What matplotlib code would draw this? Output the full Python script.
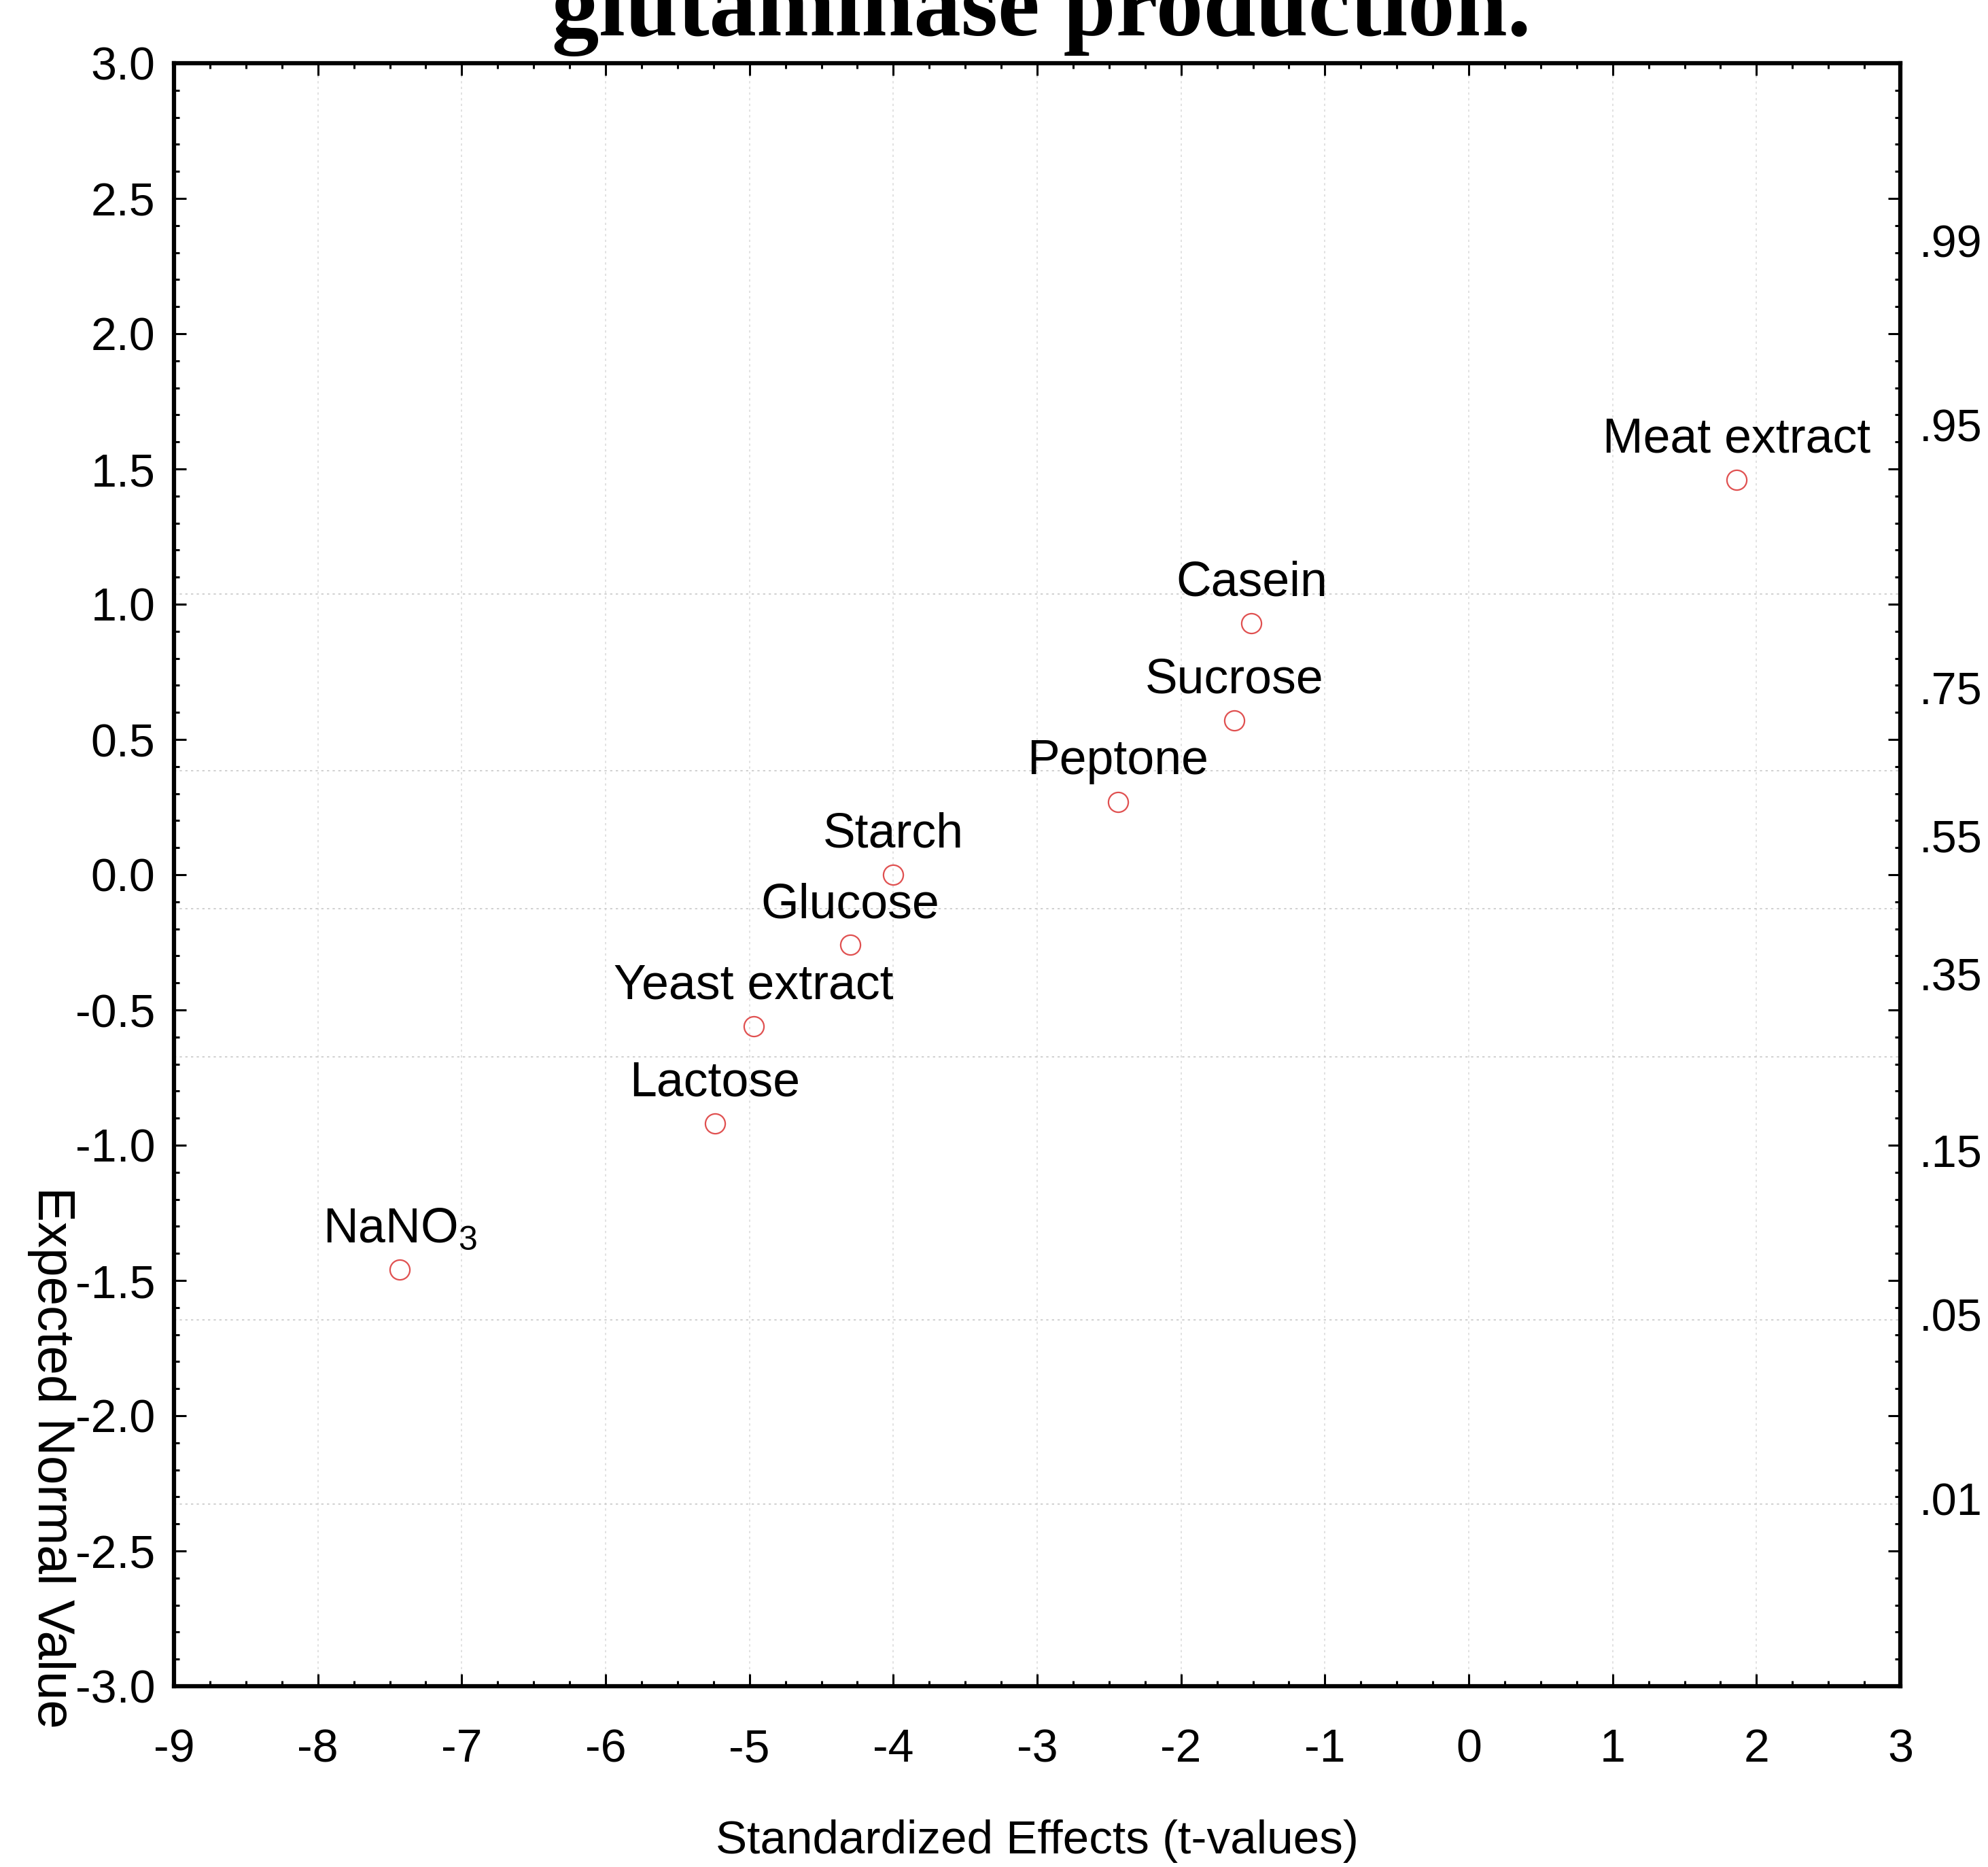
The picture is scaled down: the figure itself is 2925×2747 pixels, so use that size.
import matplotlib
matplotlib.use("Agg")
import matplotlib.pyplot as plt
from matplotlib import font_manager
from matplotlib.ticker import MultipleLocator
from matplotlib.transforms import blended_transform_factory
from statistics import NormalDist

# ---- data ----
factors = ["Meat extract", "Casein", "Sucrose", "Peptone", "Starch",
           "Glucose", "Yeast extract", "Lactose", "NaNO$_3$"]
t_values = [1.86, -1.51, -1.63, -2.44, -4.00, -4.30, -4.97, -5.24, -7.43]
expected_normal = [1.46, 0.93, 0.57, 0.27, 0.00, -0.26, -0.56, -0.92, -1.46]

prob_labels = [".99", ".95", ".75", ".55", ".35", ".15", ".05", ".01"]
prob_values = [0.99, 0.95, 0.75, 0.55, 0.35, 0.15, 0.05, 0.01]
grid_probs = [0.85, 0.65, 0.45, 0.25, 0.05, 0.01]

x_ticks = list(range(-9, 4))
y_ticks = [3.0, 2.5, 2.0, 1.5, 1.0, 0.5, 0.0, -0.5, -1.0, -1.5, -2.0, -2.5, -3.0]

title = "glutaminase production."
xlabel = "Standardized Effects (t-values)"
ylabel = "Expected Normal Value"

# ---- fonts ----
names = {f.name for f in font_manager.fontManager.ttflist}
narrow = "Liberation Sans Narrow" in names
nfam = ["Liberation Sans Narrow", "Liberation Sans", "DejaVu Sans"] if narrow else ["Liberation Sans", "DejaVu Sans"]
k = 1.0 if narrow else 0.86
plt.rcParams["font.family"] = nfam
plt.rcParams["mathtext.default"] = "regular"

W, H = 2925, 2747
fig = plt.figure(figsize=(W / 100, H / 100), dpi=100)
ax = fig.add_axes([256 / W, 1 - 2481 / H, (2796 - 256) / W, (2481 - 93) / H])

ax.set_xlim(-9, 3)
ax.set_ylim(-3, 3)

# faint grid
nd = NormalDist()
for xv in x_ticks[1:-1]:
    ax.axvline(xv, color="#dcdcdc", lw=1.2, ls=(0, (2, 3)), zorder=0)
for p in grid_probs:
    ax.axhline(nd.inv_cdf(p), color="#c8c8c8", lw=1.2, ls=(0, (2, 3)), zorder=0)

# points
ax.plot(t_values, expected_normal, ls="none", marker="o", markersize=21,
        markerfacecolor="none", markeredgecolor="#e05050", markeredgewidth=1.6, zorder=3)

for name, xv, yv in zip(factors, t_values, expected_normal):
    ax.annotate(name, (xv, yv), xytext=(0, 29), textcoords="offset points",
                ha="center", va="baseline", fontsize=60 * k, color="black", zorder=4)

# ticks
ax.set_xticks(x_ticks)
ax.set_xticklabels([str(v) for v in x_ticks])
ax.set_yticks(y_ticks)
ax.set_yticklabels([f"{v:.1f}" for v in y_ticks])
ax.xaxis.set_minor_locator(MultipleLocator(0.25))
ax.yaxis.set_minor_locator(MultipleLocator(0.1))
ax.tick_params(which="both", direction="in", top=True, right=True, width=2.2)
ax.tick_params(which="major", length=13)
ax.tick_params(which="minor", length=6)
ax.tick_params(axis="x", which="major", labelsize=57 * k, pad=44)
ax.tick_params(axis="y", which="major", labelsize=57 * k, pad=20)
for s in ax.spines.values():
    s.set_linewidth(4.5)

# right probability labels
tr = blended_transform_factory(ax.transAxes, ax.transData)
for lab, p in zip(prob_labels, prob_values):
    ax.text(1.011, nd.inv_cdf(p), lab, transform=tr, ha="left", va="center",
            fontsize=48, family=["Liberation Sans", "DejaVu Sans"], clip_on=False)

# axis labels
fig.text(1526 / W, 1 - 2709 / H, xlabel, ha="center", va="center", fontsize=58 * k)
fig.text(75 / W, 1 - 2145 / H, ylabel, ha="center", va="center", rotation=270,
         fontsize=55, family=["Liberation Sans", "DejaVu Sans"])

# title (cut off at top as in the reference)
fig.text(1532 / W, 1 - 52 / H, title, ha="center", va="baseline", fontsize=100,
         fontweight="bold", family=["Liberation Serif", "DejaVu Serif"])

fig.savefig("out.png", dpi=100, facecolor="white")
